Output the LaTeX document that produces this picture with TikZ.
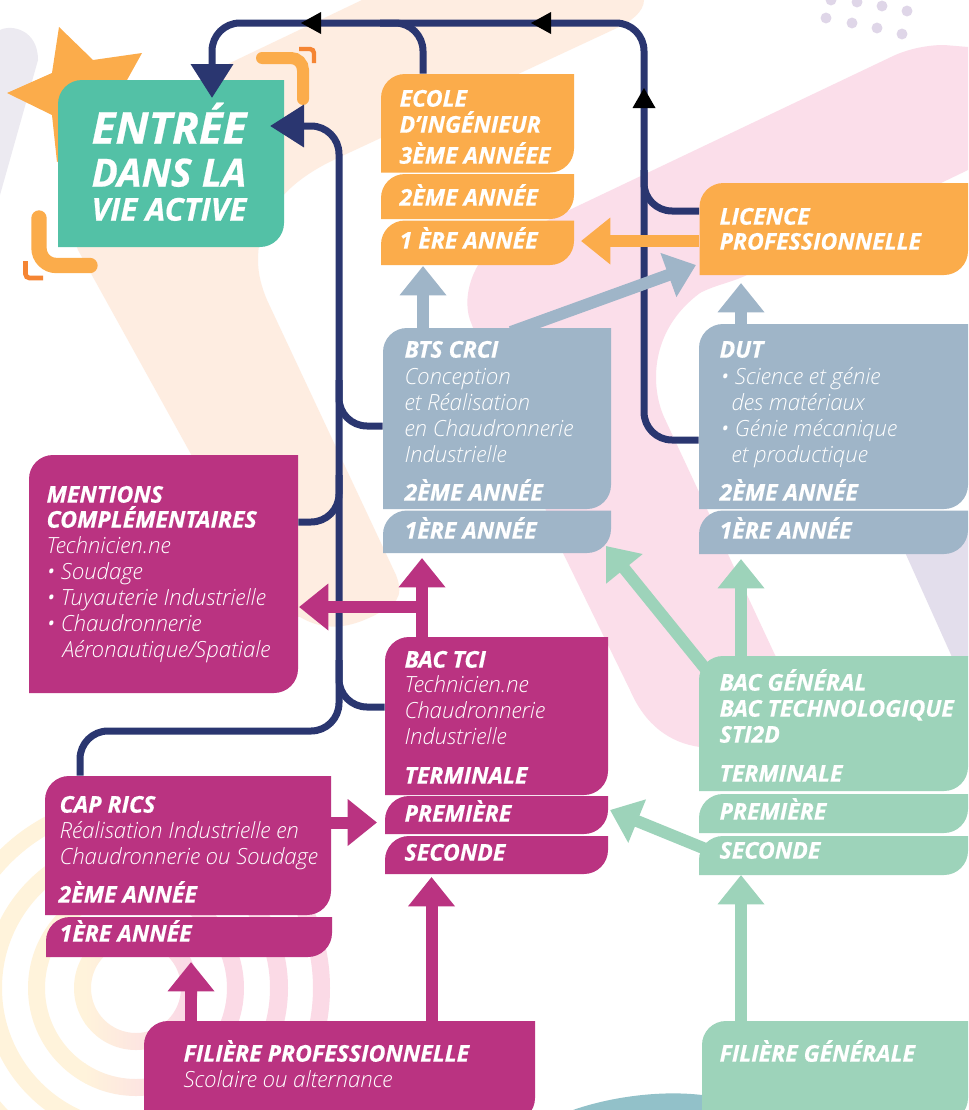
\documentclass[tikz,border=0pt]{standalone}
\usepackage{fontspec}
\usetikzlibrary{arrows.meta,fit}
\setmainfont{Open Sans}
\newfontfamily\opens{Open Sans}
\newfontface\heavyf{Open Sans Bold Italic}[FakeBold=0.6]
\IfFontExistsTF{Open Sans Light Italic}{\newfontface\lightf{Open Sans Light Italic}}{\newcommand{\lightf}{\opens\itshape}}
\definecolor{peachc}{HTML}{FEEDE1}
\definecolor{pinkc}{HTML}{FBDEEA}
\definecolor{lavc}{HTML}{E3DEEC}
\definecolor{lav2c}{HTML}{ECEAF1}
\definecolor{dotc}{HTML}{DFD6E8}
\definecolor{tealc}{HTML}{92C1C9}
\definecolor{orangec}{HTML}{FBAC4B}
\definecolor{dorangec}{HTML}{F58533}
\definecolor{bluec}{HTML}{9FB5C8}
\definecolor{magc}{HTML}{BA3381}
\definecolor{greenc}{HTML}{9DD3BA}
\definecolor{mintc}{HTML}{53C1A6}
\definecolor{navyc}{HTML}{2A3670}
\definecolor{ringy}{HTML}{FFF3DB}
\definecolor{ringp}{HTML}{FBDAE6}
\tikzset{
  x=0.75pt,y=-0.75pt,
  hd/.style={anchor=base west,inner sep=0pt,xshift=-0.5pt,yshift=-0.5pt,text=white,font=\heavyf\fontsize{17.3}{18}\selectfont},
  lt/.style={anchor=base west,inner sep=0pt,xshift=-0.5pt,text=white,font=\lightf\fontsize{16.7}{18}\selectfont},
  navyline/.style={draw=navyc,line width=5.25pt,rounded corners=21pt},
  navyhead/.style={-{Triangle[length=25.5pt,width=30.75pt]}},
  fat/.style={line width=9pt,-{Triangle[length=22pt,width=33.75pt]}},
  blackhead/.style={fill=black},
}
\newcommand{\tabbox}[7][18pt]{%
  \fill[#7] (#3,#6) [rounded corners=#1] -- (#3,#4) [sharp corners] -- (#5,#4) [rounded corners=#1] -- (#5,#6) [sharp corners] -- cycle;
  \coordinate (#2-a) at (#3,#4); \coordinate (#2-b) at (#5,#6);
  \node[fit=(#2-a)(#2-b),inner sep=0pt] (#2) {};
}
\newcommand{\lab}[5]{\node[#4] (#1) at (#2,#3) {#5};}
\begin{document}
\begin{tikzpicture}
\clip (0,0) rectangle (968,1110);
\fill[white] (0,0) rectangle (968,1110);
% background
\fill[peachc] (362,0) -- (644,0) .. controls (644,12) and (630,22) .. (617,28) -- (340,157)
  .. controls (300,175) and (258,205) .. (258,260) .. controls (258,275) and (262,288) .. (267,300)
  -- (396,575) .. controls (405,598) and (395,605) .. (375,615) .. controls (350,628) and (325,632) .. (300,617)
  -- (280,615) -- (78,250) -- (60,200) -- (120,130) -- (230,63) -- cycle;
\fill[pinkc] (968,47) -- (944,45) .. controls (925,45) and (905,50) .. (891,57) -- (500,243)
  .. controls (480,252) and (460,290) .. (470,320) -- (563,553) -- (630,690)
  .. controls (645,725) and (670,743) .. (700,747) -- (800,700) -- (775,655) -- (664,417)
  .. controls (650,385) and (650,330) .. (700,293) .. controls (715,285) and (730,283) .. (747,275)
  -- (941,183) -- (968,170) -- cycle;
\fill[lavc] (895,530) -- (952,657) -- (968,657) -- (968,530) -- cycle;
\fill[lav2c] (0,30) .. controls (12,24) and (38,30) .. (38,60) -- (0,195) -- cycle;
\foreach \dx/\dy in {826/18,852/23,877/28,902/34,831/0,857/2,882/6,907/11}
  \fill[dotc] (\dx,\dy) circle (4.1pt);
\begin{scope}[even odd rule]
\clip
  (136,988) circle (33.75pt) (136,988) circle (46.5pt)
  (136,988) circle (68.25pt) (136,988) circle (81pt)
  (136,988) circle (100.5pt) (136,988) circle (114pt)
  (136,988) circle (132.75pt) (136,988) circle (145.5pt);
\fill[ringy] (-80,780) rectangle (86,1200);
\fill[ringp] (184,780) rectangle (340,1200);
\shade[left color=ringy,right color=ringp] (85,780) rectangle (185,1200);
\end{scope}
\fill[tealc] (573,1110) .. controls (610,1097) and (660,1090) .. (702,1095) -- (720,1115) -- (573,1115) -- cycle;
% star and brackets
\fill[orangec] (59,27) -- (93,60) -- (142,53) -- (127,80) -- (100,140) -- (57,162) -- (52,115) -- (7,93) -- (52,73) -- cycle;
\draw[orangec,line width=9pt,line cap=round,rounded corners=9pt] (262,58) -- (303,58) -- (303,99);
\draw[dorangec,line width=3.3pt,rounded corners=3pt] (299,49) -- (314,49) -- (314,63);
\draw[orangec,line width=11.5pt,line cap=round,rounded corners=13pt] (39,218) -- (39,265.5) -- (90,265.5);
\draw[dorangec,line width=3.5pt,rounded corners=3pt] (25.5,261) -- (25.5,278) -- (43,278);
% boxes
\tabbox{entree}{58}{80}{284}{247}{mintc}
\tabbox{eco3}{381}{74}{574}{172.5}{orangec}
\tabbox{eco2}{381}{174}{574}{219}{orangec}
\tabbox{eco1}{381}{220.5}{574}{265}{orangec}
\tabbox{lic}{699.5}{183}{968}{275}{orangec}
\tabbox{bts2}{383}{328}{611}{509}{bluec}
\tabbox{bts1}{383}{510.5}{611}{553}{bluec}
\tabbox{dut2}{699}{324}{968}{509}{bluec}
\tabbox{dut1}{699}{510.5}{968}{554}{bluec}
\tabbox{ment}{29}{455}{298}{693}{magc}
\tabbox{tci3}{385}{637}{608}{795}{magc}
\tabbox{tci2}{385}{796}{608}{834}{magc}
\tabbox{tci1}{385}{836}{608}{874}{magc}
\tabbox{gen3}{699}{656}{968}{791}{greenc}
\tabbox{gen2}{699}{794}{968}{833}{greenc}
\tabbox{gen1}{699}{836}{968}{875}{greenc}
\tabbox{cap2}{45}{776}{331}{915}{magc}
\tabbox{cap1}{46}{917}{332}{957}{magc}
\tabbox{fpro}{144}{1021}{535}{1122}{magc}
\tabbox{fgen}{702}{1021}{968}{1122}{greenc}
% navy connectors
\coordinate (topR) at (644,23);
\coordinate (topL) at (212,23);
\coordinate (tipEntreeTop) at (212,98);
\coordinate (tipEntreeSide) at (270,126);
\coordinate (spineTop) at (339,126);
\coordinate (spineLow) at (339,731);
\draw[navyline,navyhead] (dut2.west |- 0,440) -| (topR) -- (topL) -- (tipEntreeTop);
\draw[navyline] (lic.west |- 0,211) -| (644,170);
\draw[navyline] (eco3.north -| 423,0) |- (380,23);
\draw[navyline,navyhead] (cap2.north -| 80,0) |- (spineLow) -- (spineTop) -- (tipEntreeSide);
\draw[navyline] (bts2.west |- 0,426) -| (339,380);
\draw[navyline] (ment.east |- 0,522) -| (339,475);
\draw[navyline] (tci3.west |- 0,707) -| (339,660);
\fill[blackhead] (301,23) -- (321,12) -- (321,34) -- cycle;
\fill[blackhead] (531,23) -- (551,12) -- (551,34) -- cycle;
\fill[blackhead] (644,88) -- (632.5,108) -- (655.5,108) -- cycle;
% fat arrows
\coordinate (tipA) at (423,266);
\draw[fat,bluec] (bts2.north -| tipA) -- (tipA);
\coordinate (tipB) at (741,283);
\draw[fat,bluec] (dut2.north -| tipB) -- (tipB);
\coordinate (tipC) at (696,265);
\coordinate (tailC) at (511,332);
\draw[fat,bluec] (tailC) -- (tipC);
\coordinate (tipO) at (581,241);
\draw[fat,orangec] (lic.west |- tipO) -- (tipO);
\coordinate (tipD) at (422,558);
\draw[fat,magc] (tci3.north -| tipD) -- (tipD);
\coordinate (tipE) at (299,607);
\coordinate (tailE) at (426,607);
\draw[fat,magc] (tailE) -- (tipE);
\coordinate (tipF) at (377,822.5);
\draw[fat,magc] (cap2.east |- tipF) -- (tipF);
\coordinate (tipG) at (191,962);
\draw[fat,magc] (fpro.north -| tipG) -- (tipG);
\coordinate (tipH) at (431.5,877);
\draw[fat,magc] (fpro.north -| tipH) -- (tipH);
\coordinate (tipI) at (606,546);
\coordinate (tailI) at (708,672);
\draw[fat,greenc] (tailI) -- (tipI);
\coordinate (tipJ) at (741,559);
\draw[fat,greenc] (gen3.north -| tipJ) -- (tipJ);
\coordinate (tipK) at (610,810);
\coordinate (tailK) at (708,850);
\draw[fat,greenc] (tailK) -- (tipK);
\coordinate (tipL) at (741,875);
\draw[fat,greenc] (fgen.north -| tipL) -- (tipL);
% texts
\node[hd,font=\heavyf\fontsize{33}{34}\selectfont] (t1) at (92,143) {ENTRÉE};
\node[hd,font=\heavyf\fontsize{29.2}{30}\selectfont] (t2) at (92,186) {DANS LA};
\node[hd,font=\heavyf\fontsize{23.6}{24}\selectfont] (t3) at (92,220) {VIE ACTIVE};
\lab{e1}{400}{106}{hd}{ECOLE}
\lab{e2}{400}{132}{hd}{D’INGÉNIEUR}
\lab{e3}{400}{163}{hd}{3ÈME ANNÉEE}
\lab{e4}{400}{205}{hd}{2ÈME ANNÉE}
\lab{e5}{400}{248}{hd}{1 ÈRE ANNÉE}
\lab{l1}{720}{224}{hd}{LICENCE}
\lab{l2}{720}{249}{hd}{PROFESSIONNELLE}
\lab{b1}{405}{357}{hd}{BTS CRCI}
\lab{b2}{405}{384}{lt}{Conception}
\lab{b3}{405}{410}{lt}{et Réalisation}
\lab{b4}{405}{436}{lt}{en Chaudronnerie}
\lab{b5}{405}{462}{lt}{Industrielle}
\lab{b6}{405}{500}{hd}{2ÈME ANNÉE}
\lab{b7}{405}{538}{hd}{1ÈRE ANNÉE}
\lab{d1}{720}{357}{hd}{DUT}
\lab{d2}{721}{384}{lt}{• Science et génie}
\lab{d3}{732}{410}{lt}{des matériaux}
\lab{d4}{721}{436}{lt}{• Génie mécanique}
\lab{d5}{732}{462}{lt}{et productique}
\lab{d6}{720}{500}{hd}{2ÈME ANNÉE}
\lab{d7}{720}{538}{hd}{1ÈRE ANNÉE}
\lab{m1}{47}{502}{hd}{MENTIONS}
\lab{m2}{47}{527}{hd}{COMPLÉMENTAIRES}
\lab{m3}{47}{553}{lt}{Technicien.ne}
\lab{m4}{47}{579}{lt}{• Soudage}
\lab{m5}{47}{605}{lt}{• Tuyauterie Industrielle}
\lab{m6}{47}{631}{lt}{• Chaudronnerie}
\lab{m7}{63}{657}{lt}{Aéronautique/Spatiale}
\lab{c1}{405}{667}{hd}{BAC TCI}
\lab{c2}{405}{692}{lt}{Technicien.ne}
\lab{c3}{405}{718}{lt}{Chaudronnerie}
\lab{c4}{405}{744}{lt}{Industrielle}
\lab{c5}{405}{783}{hd}{TERMINALE}
\lab{c6}{405}{821}{hd}{PREMIÈRE}
\lab{c7}{405}{860}{hd}{SECONDE}
\lab{k1}{60}{812}{hd}{CAP RICS}
\lab{k2}{60}{838}{lt}{Réalisation Industrielle en}
\lab{k3}{60}{864}{lt}{Chaudronnerie ou Soudage}
\lab{k4}{59}{902}{hd}{2ÈME ANNÉE}
\lab{k5}{60}{941}{hd}{1ÈRE ANNÉE}
\lab{f1}{184}{1061}{hd}{FILIÈRE PROFESSIONNELLE}
\lab{f2}{184}{1087}{lt}{Scolaire ou alternance}
\lab{g1}{720}{690}{hd}{BAC GÉNÉRAL}
\lab{g2}{720}{716}{hd}{BAC TECHNOLOGIQUE}
\lab{g3}{720}{742}{hd}{STI2D}
\lab{g4}{720}{781}{hd}{TERMINALE}
\lab{g5}{720}{819}{hd}{PREMIÈRE}
\lab{g6}{720}{858}{hd}{SECONDE}
\lab{h1}{720}{1061}{hd}{FILIÈRE GÉNÉRALE}
\end{tikzpicture}
\end{document}
